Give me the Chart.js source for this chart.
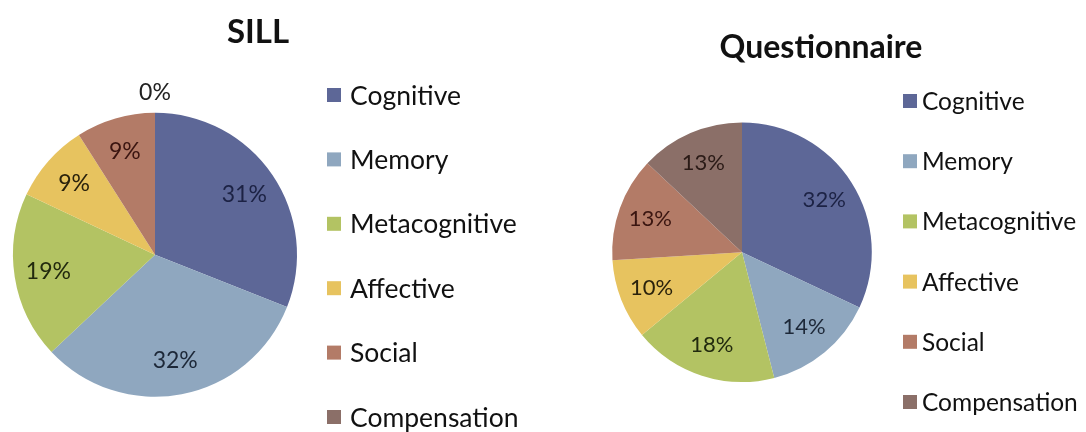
<!DOCTYPE html>
<html>
<head>
<meta charset="utf-8">
<script src="https://cdn.jsdelivr.net/npm/chart.js@4.4.1/dist/chart.umd.min.js"></script>
<style>
  html, body { margin: 0; padding: 0; background: #fff; }
  body { width: 1086px; height: 432px; position: relative; overflow: hidden; }
  #sill { position: absolute; left: 0; top: 0; }
  #quest { position: absolute; left: 540px; top: 0; }
</style>
</head>
<body>
<canvas id="sill" width="530" height="432"></canvas>
<canvas id="quest" width="546" height="432"></canvas>
<script>
// categorias (mesmas nos dois gráficos)
const categorias = ["Cognitive", "Memory", "Metacognitive", "Affective", "Social", "Compensation"];
// percentuais
const valoresSILL = [31, 32, 19, 9, 9, 0];
const valoresQuestionario = [32, 14, 18, 10, 13, 13];

const cores = ["#5d6797", "#8fa7bf", "#b3c363", "#e7c35f", "#b37b67", "#8b6f68"];
const coresRotulo = ["#1c2244", "#1d2838", "#222a0e", "#2a220c", "#3a1510", "#2a1a16"];
const fonte = "Lato, 'Open Sans', sans-serif";

// legenda lateral desenhada como caixa do layout (a pizza fica à esquerda dela)
function legendaLateral(cfg) {
  return {
    id: 'legendaLateral',
    beforeInit(chart) {
      const caixa = {
        position: 'right', weight: 10, fullSize: false, options: {},
        left: 0, top: 0, right: 0, bottom: 0, width: 0, height: 0,
        isHorizontal() { return false; },
        update(maxW, maxH) { this.width = cfg.width; this.height = maxH; },
        draw() {
          const ctx = chart.ctx;
          const ds = chart.data.datasets[0];
          ctx.save();
          ctx.font = cfg.fontSize + "px " + fonte;
          ctx.textBaseline = "middle";
          ctx.textAlign = "left";
          chart.data.labels.forEach((rotulo, i) => {
            const y = cfg.firstY + i * cfg.step;
            ctx.fillStyle = ds.backgroundColor[i];
            ctx.fillRect(this.left + cfg.boxX, y - cfg.box / 2, cfg.box, cfg.box);
            ctx.fillStyle = "#111";
            ctx.fillText(rotulo, this.left + cfg.textX, y + 1);
          });
          ctx.restore();
        }
      };
      Chart.layouts.addBox(chart, caixa);
    }
  };
}

// rótulos de porcentagem sobre as fatias
function rotulosFatias(cfg) {
  return {
    id: 'rotulosFatias',
    afterDatasetsDraw(chart) {
      const ctx = chart.ctx;
      const meta = chart.getDatasetMeta(0);
      const dados = chart.data.datasets[0].data;
      ctx.save();
      ctx.font = cfg.fontSize + "px " + fonte;
      ctx.textAlign = "center";
      ctx.textBaseline = "middle";
      meta.data.forEach((arco, i) => {
        const p = arco.getProps(['x', 'y', 'startAngle', 'endAngle', 'outerRadius'], true);
        const meio = (p.startAngle + p.endAngle) / 2;
        const r = dados[i] === 0 ? p.outerRadius + cfg.fora : p.outerRadius * cfg.dentro;
        ctx.fillStyle = dados[i] === 0 ? "#222" : coresRotulo[i];
        ctx.fillText(dados[i] + "%", p.x + Math.cos(meio) * r, p.y + Math.sin(meio) * r);
      });
      ctx.restore();
    }
  };
}

function criarPizza(id, titulo, valores, geo) {
  const ctx = document.getElementById(id).getContext('2d');
  return new Chart(ctx, {
    type: 'pie',
    data: {
      labels: categorias,
      datasets: [{
        data: valores,
        backgroundColor: cores,
        borderWidth: 0,
        hoverOffset: 0
      }]
    },
    options: {
      responsive: false,
      animation: false,
      events: [],
      layout: { padding: geo.padding },
      plugins: {
        legend: { display: false },
        tooltip: { enabled: false },
        title: {
          display: true,
          text: titulo,
          color: "#111",
          font: { family: fonte, size: geo.titleSize, weight: 'bold', lineHeight: 1.2 },
          padding: geo.titlePadding
        }
      }
    },
    plugins: [legendaLateral(geo.legenda), rotulosFatias(geo.rotulos)]
  });
}

criarPizza('sill', 'SILL', valoresSILL, {
  padding: { left: 13, right: 27, top: 0, bottom: 35 },
  titleSize: 33,
  titlePadding: { top: 13, bottom: 60 },
  legenda: { width: 206, boxX: 30, textX: 53, box: 14, firstY: 95, step: 64.4, fontSize: 26.5 },
  rotulos: { fontSize: 23, dentro: 0.76, fora: 20 }
});

criarPizza('quest', 'Questionnaire', valoresQuestionario, {
  padding: { left: 72, right: 56, top: 0, bottom: 50 },
  titleSize: 32,
  titlePadding: { top: 28, bottom: 56 },
  legenda: { width: 158, boxX: 31, textX: 50, box: 14, firstY: 101, step: 60.2, fontSize: 24.5 },
  rotulos: { fontSize: 22, dentro: 0.75, fora: 20 }
});
</script>
</body>
</html>
